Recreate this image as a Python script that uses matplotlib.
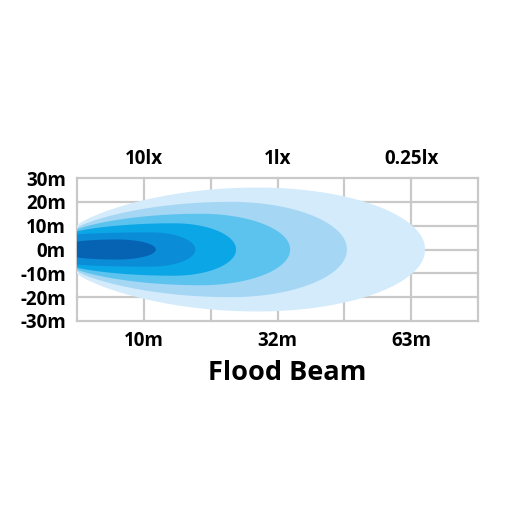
import numpy as np
import matplotlib
matplotlib.use("Agg")
import matplotlib.pyplot as plt

# Beam contour layers (outer -> inner); x in grid columns, half-widths in metres
layer_colors = ["#d3ebfb", "#a5d7f4", "#5cc3ef", "#0ba6e6", "#0a8cd7", "#0662b2"]
reach_x = [5.21, 4.04, 3.19, 2.38, 1.77, 1.18]
peak_x = [2.7, 2.3, 1.85, 1.45, 1.1, 0.6]
peak_half = [26.0, 20.0, 15.0, 11.0, 7.2, 4.2]
start_half = [10.0, 9.0, 8.3, 7.5, 6.3, 3.3]

y_ticks = [30, 20, 10, 0, -10, -20, -30]
y_labels = ["30m", "20m", "10m", "0m", "-10m", "-20m", "-30m"]
dist_pos = [1, 3, 5]
dist_labels = ["10m", "32m", "63m"]
lux_labels = ["10lx", "1lx", "0.25lx"]
title = "Flood Beam"

plt.rcParams['font.family'] = ['Open Sans', 'DejaVu Sans']
fig = plt.figure(figsize=(5.12, 5.12), dpi=100)
ax = fig.add_axes([77/512, 1-321/512, 401/512, 143/512])
ax.set_xlim(0, 6)
ax.set_ylim(-30, 30)

gc = "#c9c9c9"
for x in range(0, 7):
    ax.axvline(x, color=gc, lw=1.6, zorder=0, clip_on=False)
for y in y_ticks:
    ax.axhline(y, color=gc, lw=1.6, zorder=0, clip_on=False)
for s in ax.spines.values():
    s.set_visible(False)

def outline(r, c, h, h0, p=0.8):
    xl = np.linspace(0, c, 200)
    yl = h0 + (h - h0) * np.clip(1 - ((c - xl) / c) ** 2, 0, 1) ** p
    xr = np.linspace(c, r, 200)
    yr = h * np.sqrt(np.clip(1 - ((xr - c) / (r - c)) ** 2, 0, 1))
    xs = np.concatenate([xl, xr[1:]])
    ys = np.concatenate([yl, yr[1:]])
    # small rounded nose at the left edge
    cap = np.linspace(-np.pi / 2, np.pi / 2, 40)
    xc = -0.03 * np.cos(cap) * 0 + 0.0 - 0.0
    xs_full = np.concatenate([xs, xs[::-1]])
    ys_full = np.concatenate([ys, -ys[::-1]])
    return xs_full, ys_full

for i in range(len(layer_colors)):
    xs, ys = outline(reach_x[i], peak_x[i], peak_half[i], start_half[i])
    ax.fill(xs, ys, color=layer_colors[i], lw=0, zorder=2 + i, clip_on=False)

ax.set_yticks(y_ticks)
ax.set_yticklabels(y_labels, fontsize=13.5, fontweight='bold')
ax.tick_params(axis='y', length=0, pad=8)
ax.set_xticks(dist_pos)
ax.set_xticklabels(dist_labels, fontsize=13.5, fontweight='bold')
ax.tick_params(axis='x', length=0, pad=7)

for xp, lab in zip(dist_pos, lux_labels):
    ax.text(xp, 1.135, lab, transform=ax.get_xaxis_transform(), ha='center', va='center',
            fontsize=13.5, fontweight='bold')

fig.text(287/512, 1-373/512, title, ha='center', va='center', fontsize=19.5, fontweight='bold')

fig.savefig("out.png", dpi=100, facecolor='white')
